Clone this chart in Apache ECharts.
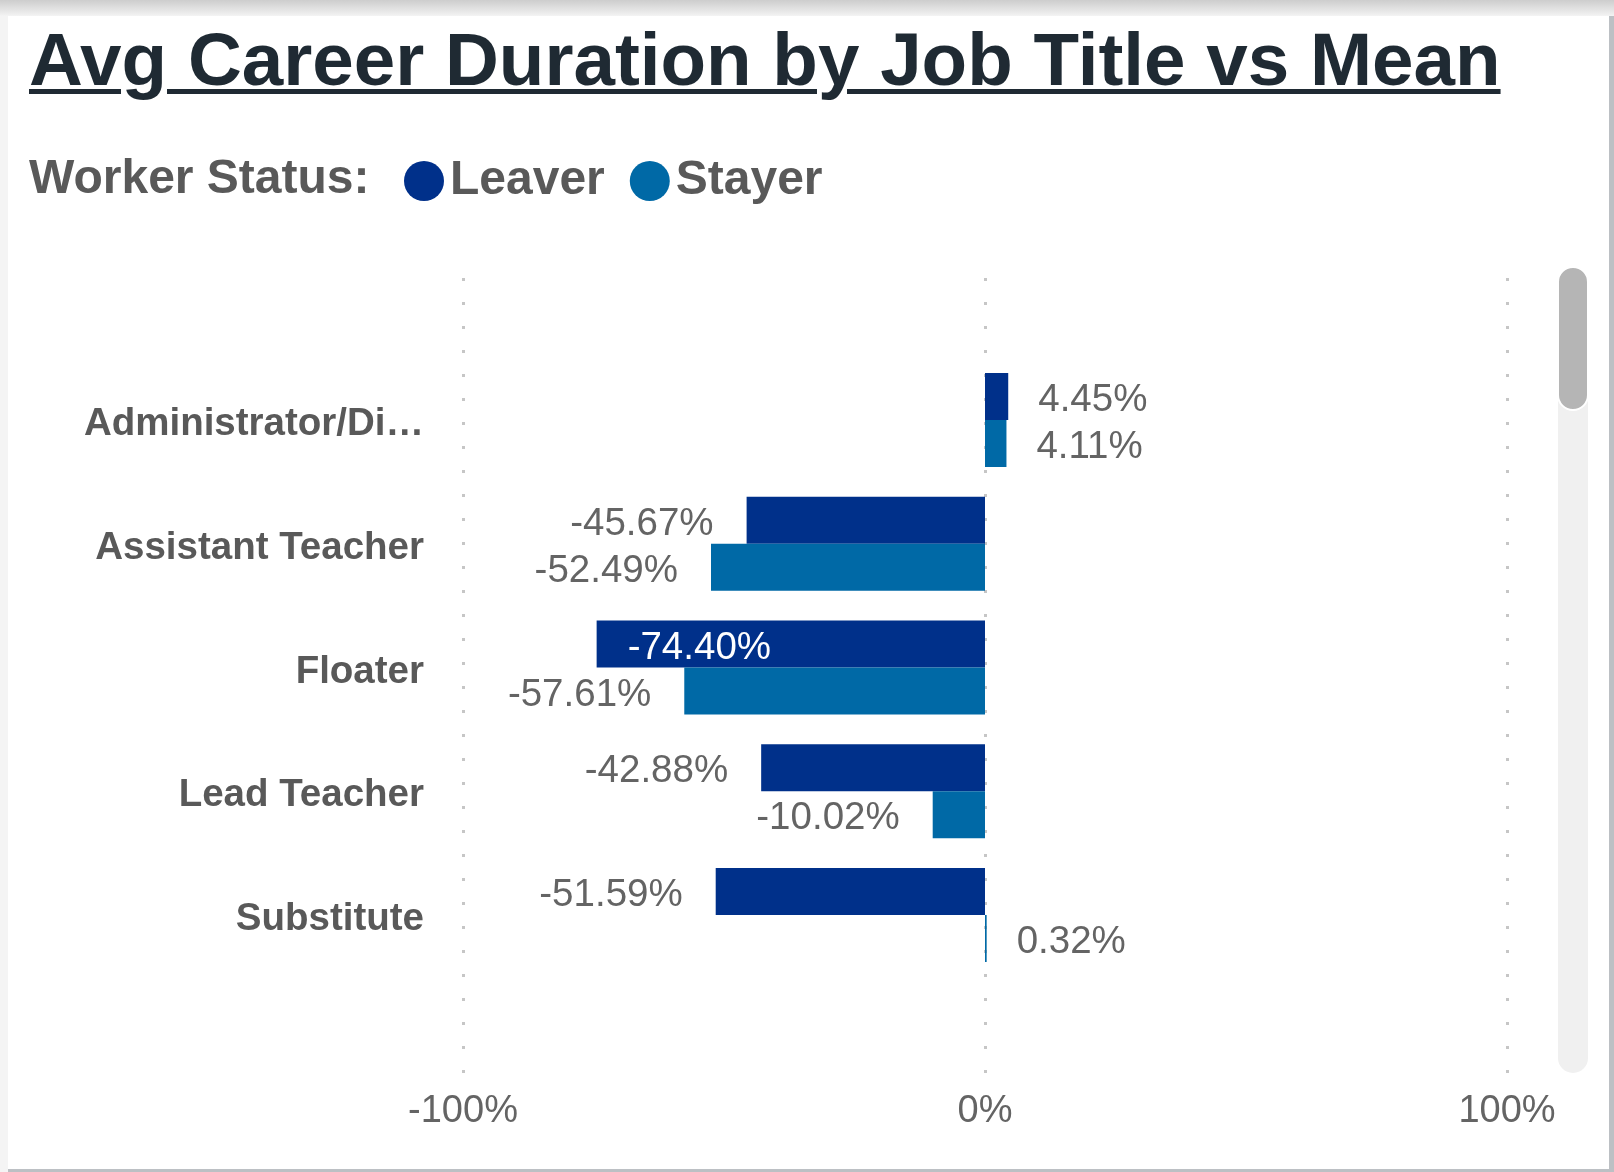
<!DOCTYPE html>
<html>
<head>
<meta charset="utf-8">
<script src="https://cdn.jsdelivr.net/npm/echarts@6/dist/echarts.min.js"></script>
<style>
  html, body { margin: 0; padding: 0; }
  body {
    width: 1614px; height: 1172px; overflow: hidden; position: relative;
    background: linear-gradient(#cdcdcd 0px, #eeeeee 14px, #f4f4f4 16px, #f4f4f4 100%);
    font-family: "Liberation Sans", Arial, sans-serif;
  }
  #card {
    position: absolute; left: 8px; top: 16px; width: 1601px; height: 1153px;
    background: #fff; border-right: 5px solid #bcc0c4; border-bottom: 3px solid #bcc0c4;
  }
  #title {
    position: absolute; left: 29px; top: 22px; margin: 0;
    font: bold 74.6px/74px "Liberation Sans", Arial, sans-serif; color: #1f2a33;
    text-decoration: underline; text-decoration-thickness: 5px; text-underline-offset: 4px;
    white-space: nowrap;
  }
  #chart { position: absolute; left: 0; top: 0; width: 1614px; height: 1172px; }
</style>
</head>
<body>
<div id="card"></div>
<div id="title">Avg Career Duration by Job Title vs Mean</div>
<div id="chart"></div>
<script>
var categories = ['Administrator/Director', 'Assistant Teacher', 'Floater', 'Lead Teacher', 'Substitute'];
var leaver = [4.45, -45.67, -74.40, -42.88, -51.59];
var stayer = [4.11, -52.49, -57.61, -10.02, 0.32];
var axisTicks = [-100, 0, 100];

(function() {
  var font = '"Liberation Sans", Arial, sans-serif';
  var grey = '#595959';
  var labelGrey = '#646464';
  var leaverColor = '#00308a';
  var stayerColor = '#0069a6';

  var chart = echarts.init(document.getElementById('chart'), null, { renderer: 'canvas' });

  // bars whose label would not fit outside get it inside, in white
  function barData(values) {
    return values.map(function(v) {
      var inside = v < -65;
      return {
        value: v,
        label: {
          position: inside ? 'insideLeft' : (v < 0 ? 'left' : 'right'),
          distance: inside ? 31 : (v < 0 ? 33 : 30),
          color: inside ? '#ffffff' : labelGrey
        }
      };
    });
  }

  var valueLabel = {
    show: true,
    fontFamily: font,
    fontSize: 38.5,
    offset: [0, 4],
    formatter: function(p) { return p.value.toFixed(2) + '%'; }
  };

  chart.setOption({
    animation: false,
    legend: {
      left: 404,
      top: 157,
      icon: 'circle',
      itemWidth: 40,
      itemHeight: 40,
      itemGap: 25,
      padding: 0,
      data: ['Leaver', 'Stayer'],
      textStyle: { fontFamily: font, fontSize: 48, fontWeight: 'bold', color: grey, padding: [0, 0, 0, 1] }
    },
    graphic: [
      {
        type: 'text', left: 29, top: 156,
        style: { text: 'Worker Status:', fill: grey, font: 'bold 48px ' + font }
      },
      {
        type: 'rect', shape: { x: 1558, y: 267, width: 30, height: 806, r: 15 },
        style: { fill: '#f0f0f0' }
      },
      {
        type: 'rect', shape: { x: 1558, y: 267, width: 30, height: 143, r: 15 },
        style: { fill: '#b5b5b5', stroke: '#ffffff', lineWidth: 2 }
      }
    ],
    grid: [
      { left: 463, right: 107, top: 278, bottom: 96 },
      { left: 463, right: 107, top: 358, bottom: 195 }
    ],
    xAxis: [
      {
        gridIndex: 0,
        type: 'value',
        min: axisTicks[0],
        max: axisTicks[axisTicks.length - 1],
        interval: 100,
        axisLine: { show: false },
        axisTick: { show: false },
        axisLabel: {
          margin: 17, fontFamily: font, fontSize: 38, color: labelGrey,
          formatter: '{value}%'
        },
        splitLine: { lineStyle: { color: '#c6c6c6', width: 3, type: [3, 21] } }
      },
      {
        gridIndex: 1,
        type: 'value',
        min: axisTicks[0],
        max: axisTicks[axisTicks.length - 1],
        show: false
      }
    ],
    yAxis: [
      { gridIndex: 0, type: 'value', show: false },
      {
        gridIndex: 1,
        type: 'category',
        data: categories,
        inverse: true,
        axisLine: { show: false },
        axisTick: { show: false },
        axisLabel: {
          margin: 39, fontFamily: font, fontSize: 38.5, fontWeight: 'bold', color: grey,
          width: 350, overflow: 'truncate', ellipsis: '…',
          verticalAlign: 'top', lineHeight: 9
        }
      }
    ],
    series: [
      {
        name: 'Leaver', type: 'bar', xAxisIndex: 1, yAxisIndex: 1,
        barWidth: 47, barGap: '0%',
        itemStyle: { color: leaverColor },
        label: valueLabel,
        data: barData(leaver)
      },
      {
        name: 'Stayer', type: 'bar', xAxisIndex: 1, yAxisIndex: 1,
        barWidth: 47, barGap: '0%',
        itemStyle: { color: stayerColor },
        label: valueLabel,
        data: barData(stayer)
      }
    ]
  });
})();
</script>
</body>
</html>
